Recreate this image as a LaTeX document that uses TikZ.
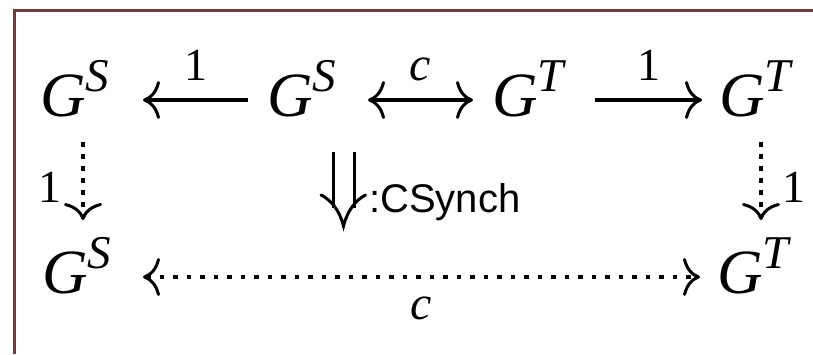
\documentclass[tikz,border=0pt]{standalone}
\usepackage{fontspec}
\setmainfont{Liberation Serif}
\newfontfamily\sansf{Liberation Sans}
\usetikzlibrary{arrows.meta}
\definecolor{framecol}{RGB}{112,60,60}
\newcommand{\Gsup}[1]{\fontsize{63}{66}\selectfont\itshape G\raisebox{25pt}{\fontsize{47}{49}\selectfont #1}}
\begin{document}
\begin{tikzpicture}[x=1pt,y=-1pt,
  obj/.style={inner sep=0pt, outer sep=0pt, text height=32pt, text depth=0pt, anchor=base west},
  lbl/.style={inner sep=0pt, outer sep=0pt, font=\fontsize{46}{48}\selectfont},
  ilbl/.style={inner sep=0pt, outer sep=0pt, font=\fontsize{48}{50}\selectfont\itshape},
  cmtip/.tip={Computer Modern Rightarrow[length=17pt,width=38pt,line width=3pt]},
  arr/.style={line width=4.2pt, -cmtip},
  biarr/.style={line width=4.2pt, cmtip-cmtip},
  vdot/.style={line width=4.5pt, dash pattern=on 4.5pt off 7.5pt, -cmtip},
  hdot/.style={line width=4.5pt, dash pattern=on 4.5pt off 9pt, cmtip-cmtip},
  dline/.style={line width=3pt, line cap=butt}
]
\useasboundingbox (0,0) rectangle (813,354);
\draw[framecol, line width=3pt] (14,354) -- (14,10) -- (813,10);

\node[obj] (a1) at (40,116) {\Gsup{S}};
\node[obj] (b1) at (267,116) {\Gsup{S}};
\node[obj] (c1) at (492,116) {\Gsup{T}};
\node[obj] (d1) at (719,116) {\Gsup{T}};
\node[obj] (a2) at (42,293) {\Gsup{S}};
\node[obj] (d2) at (717,293) {\Gsup{T}};

\draw[arr] ([xshift=-19pt]b1.west) -- node[lbl, midway, anchor=base, yshift=20pt] {1} ([xshift=103pt]a1.west);
\draw[biarr] ([xshift=101pt]b1.west) -- node[ilbl, midway, anchor=base, yshift=20pt] {c} ([xshift=-19pt]c1.west);
\draw[arr] ([xshift=103pt]c1.west) -- node[lbl, midway, anchor=base, yshift=20pt] {1} ([xshift=-17pt]d1.west);
\draw[hdot] ([xshift=101pt]a2.west) -- node[ilbl, midway, anchor=base, yshift=-42pt] {c} ([xshift=-17pt]d2.west);

\draw[vdot] ([xshift=43pt,yshift=-26pt]a1.base west) -- node[lbl, pos=0.77, anchor=base east, xshift=-21.5pt] {1} ([xshift=41pt,yshift=73pt]a2.base west);
\draw[vdot] ([xshift=42pt,yshift=-26pt]d1.base west) -- node[lbl, pos=0.78, anchor=base west, xshift=21.5pt] {1} ([xshift=44pt,yshift=73pt]d2.base west);

% double arrow (Downarrow) with its label
\coordinate (ul1) at (333,152);
\coordinate (ul2) at (333,208);
\coordinate (ur1) at (354,152);
\coordinate (ur2) at (354,208);
\coordinate (hl) at (321,195);
\coordinate (hr) at (365.5,195);
\coordinate (tip) at (343.5,226);
\draw[dline] (ul1) -- (ul2);
\draw[dline] (ur1) -- (ur2);
\draw[line width=3pt, line cap=round, line join=miter]
  (hl) .. controls (331,200) and (339.5,210) .. (tip)
       .. controls (347.5,210) and (356,200) .. (hr);
\node[anchor=base west, inner sep=0pt, font=\sansf\fontsize{40}{42}\selectfont] (lab) at (369,212) {:CSynch};
\end{tikzpicture}
\end{document}
